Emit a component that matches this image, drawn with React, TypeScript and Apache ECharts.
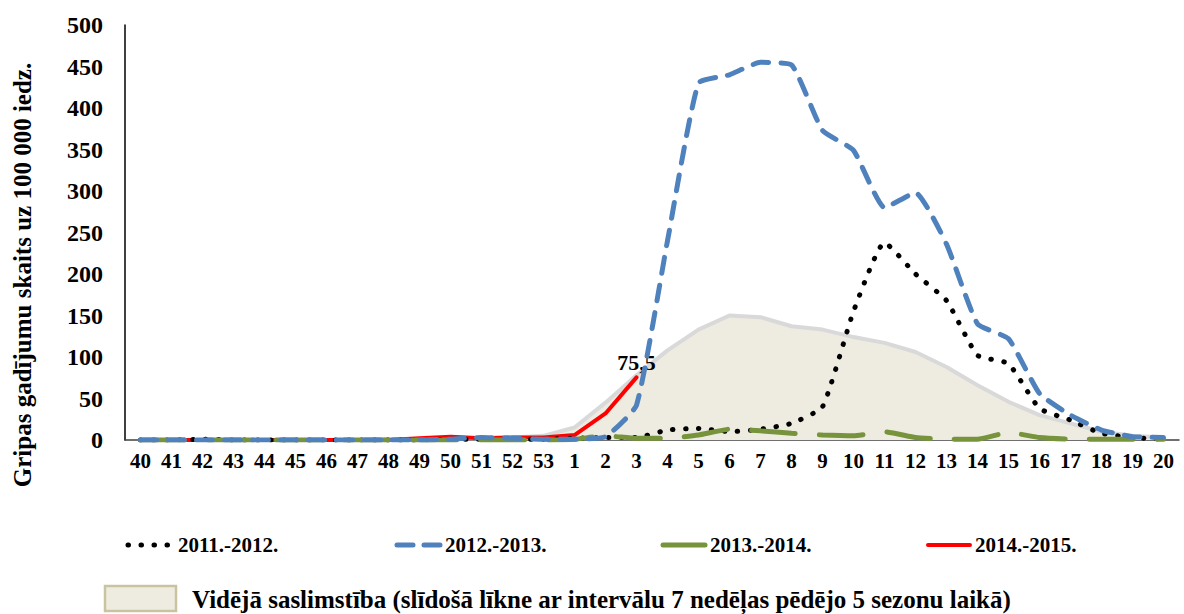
import React, { useEffect, useRef } from "react";
import * as echarts from "echarts";

const weeks = [
  "40", "41", "42", "43", "44", "45", "46", "47", "48", "49", "50", "51", "52", "53",
  "1", "2", "3", "4", "5", "6", "7", "8", "9", "10", "11", "12", "13", "14", "15", "16", "17", "18", "19", "20",
];

const s2011 = [0, 0, 1, 0, 0, 0, 0, 0, 0, 0, 1, 1, 1, 1, 2, 3, 3, 12, 14, 10, 13, 20, 40, 155, 238, 200, 168, 102, 92, 38, 24, 8, 3, 1];
const s2012 = [0, 0, 0, 0, 0, 0, 0, 0, 0, 0, 1, 3, 2, 1, 1, 4, 42, 240, 430, 440, 455, 452, 373, 349, 280, 298, 236, 140, 122, 56, 30, 12, 4, 3];
const s2013 = [0, 0, 0, 0, 0, 0, 0, 0, 0, 0, 0, 0, 0, 0, 1, 5, 2, 2, 6, 13, 11, 8, 6, 5, 10, 3, 1, 1, 9, 3, 1, 1, 1, 1];
const s2014 = [0, 0, 0, 0, 0, 0, 0, 0, 0, 2, 4, 2, 3, 3, 6, 32, 75.5, null, null, null, null, null, null, null, null, null, null, null, null, null, null, null, null, null];
const avg = [0, 0, 0, 0, 0, 0, 0, 0, 1, 1, 2, 2, 3, 5, 15, 45, 78, 108, 133, 150, 148, 137, 133, 124, 117, 106, 88, 66, 46, 30, 20, 10, 5, 3];

const yTicks = { min: 0, max: 500, interval: 50 };

const names = {
  a: "2011.-2012.",
  b: "2012.-2013.",
  c: "2013.-2014.",
  d: "2014.-2015.",
  avg: "Vidējā saslimstība (slīdošā līkne ar intervālu 7 nedēļas pēdējo 5 sezonu laikā)",
};

const FONT = "Liberation Serif";

const styles = {
  a: { color: "#000000", width: 5, type: [0.5, 12.5] as number[] },
  b: { color: "#4F81BD", width: 5, type: [16, 12] as number[] },
  c: { color: "#77933C", width: 5, type: [44, 24] as number[] },
  d: { color: "#FF0000", width: 4 },
};

export default function App() {
  const ref = useRef<HTMLDivElement>(null);
  useEffect(() => {
    if (!ref.current) return;
    const chart = echarts.init(ref.current, undefined, { renderer: "svg" });
    const lastIdx = s2014.reduce((acc: number, v, i) => (v != null ? i : acc), 0);
    const legendFont = `bold 21px "${FONT}"`;
    const legendY = 545;
    const legendItems = [
      { name: names.a, x1: 128, x2: 168, text: 178, st: styles.a },
      { name: names.b, x1: 397, x2: 440, text: 445, st: { ...styles.b, type: [16, 11] } },
      { name: names.c, x1: 663, x2: 705, text: 710, st: { ...styles.c, type: undefined } },
      { name: names.d, x1: 928, x2: 970, text: 975, st: styles.d },
    ];
    const graphic: any[] = [
      {
        type: "text",
        x: 22,
        y: 275,
        rotation: Math.PI / 2,
        style: {
          text: "Gripas gadījumu skaits uz 100 000 iedz.",
          font: `bold 25px "${FONT}"`,
          fill: "#000",
          textAlign: "center",
          textVerticalAlign: "middle",
        },
      },
    ];
    legendItems.forEach((it) => {
      graphic.push({
        type: "line",
        shape: { x1: it.x1, y1: legendY, x2: it.x2, y2: legendY },
        style: {
          stroke: it.st.color,
          lineWidth: it.st.width,
          lineDash: (it.st as any).type,
          lineCap: "round",
        },
      });
      graphic.push({
        type: "text",
        x: it.text,
        y: legendY,
        style: { text: it.name, font: legendFont, fill: "#000", textVerticalAlign: "middle" },
      });
    });
    graphic.push({
      type: "rect",
      shape: { x: 105, y: 586, width: 71, height: 25 },
      style: { fill: "#EEECE1", stroke: "#C9C3A0", lineWidth: 2.5 },
    });
    graphic.push({
      type: "text",
      x: 192,
      y: 599,
      style: { text: names.avg, font: `bold 25px "${FONT}"`, fill: "#000", textVerticalAlign: "middle" },
    });

    chart.setOption({
      animation: false,
      grid: { left: 125, right: 5, top: 25, bottom: 174, containLabel: false },
      graphic,
      xAxis: {
        type: "category",
        data: weeks,
        boundaryGap: true,
        axisLine: { lineStyle: { color: "#404040", width: 1.5 } },
        axisTick: { show: false },
        axisLabel: { fontFamily: FONT, fontWeight: "bold", fontSize: 21, color: "#000", margin: 10, interval: 0 },
      },
      yAxis: {
        type: "value",
        min: yTicks.min,
        max: yTicks.max,
        interval: yTicks.interval,
        axisLine: { show: true, lineStyle: { color: "#000", width: 1.5 } },
        axisTick: { show: false },
        splitLine: { show: false },
        axisLabel: { fontFamily: FONT, fontWeight: "bold", fontSize: 24, color: "#000", margin: 22 },
      },
      series: [
        {
          name: names.avg,
          type: "line",
          data: avg,
          symbol: "none",
          z: 1,
          lineStyle: { color: "#D9D9D9", width: 4 },
          itemStyle: { color: "#D9D9D9" },
          areaStyle: { color: "#EEECE1", opacity: 1 },
        },
        {
          name: names.a,
          type: "line",
          data: s2011,
          symbol: "none",
          smooth: 0.15,
          z: 3,
          lineStyle: { color: styles.a.color, width: styles.a.width, type: styles.a.type, cap: "round" },
          itemStyle: { color: styles.a.color },
        },
        {
          name: names.b,
          type: "line",
          data: s2012,
          symbol: "none",
          smooth: 0.15,
          z: 4,
          lineStyle: { color: styles.b.color, width: styles.b.width, type: styles.b.type, cap: "round" },
          itemStyle: { color: styles.b.color },
        },
        {
          name: names.c,
          type: "line",
          data: s2013,
          symbol: "none",
          smooth: 0.15,
          z: 3,
          lineStyle: { color: styles.c.color, width: styles.c.width, type: styles.c.type, cap: "round" },
          itemStyle: { color: styles.c.color },
        },
        {
          name: names.d,
          type: "line",
          data: s2014.map((v, i) =>
            i === lastIdx
              ? {
                  value: v,
                  symbol: "circle",
                  symbolSize: 3,
                  label: {
                    show: true,
                    position: "top",
                    distance: 2,
                    formatter: (p: any) => String(p.value).replace(".", ","),
                    fontFamily: FONT,
                    fontWeight: "bold",
                    fontSize: 22,
                    color: "#000",
                  },
                }
              : v
          ),
          symbol: "none",
          showSymbol: true,
          z: 2,
          lineStyle: { color: styles.d.color, width: styles.d.width, cap: "round" },
          itemStyle: { color: styles.d.color },
        },
      ],
    });
    return () => chart.dispose();
  }, []);
  return <div ref={ref} style={{ width: 1184, height: 614, position: "absolute", left: 0, top: 0 }} />;
}
